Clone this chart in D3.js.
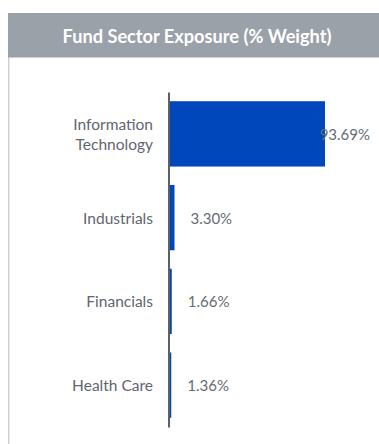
<!DOCTYPE html>
<html>
<head>
<meta charset="utf-8">
<script src="https://cdn.jsdelivr.net/npm/d3@7"></script>
<style>
  html, body { margin: 0; padding: 0; background: #fff; }
  svg { display: block; }
</style>
</head>
<body>
<svg id="chart" width="379" height="444"></svg>
<script>
// Sector weights of the fund, in percent
const sectors = ["Information Technology", "Industrials", "Financials", "Health Care"];
const sectorLines = [["Information", "Technology"], ["Industrials"], ["Financials"], ["Health Care"]];
const weights = [93.69, 3.30, 1.66, 1.36];
const valueLabels = ["93.69%", "3.30%", "1.66%", "1.36%"];
const title = "Fund Sector Exposure (% Weight)";

const W = 379, H = 444;
const font = "Lato, 'Open Sans', sans-serif";
const svg = d3.select("#chart");

// Panel frame: left rule and grey header strip
svg.append("line")
  .attr("x1", 8.75).attr("x2", 8.75)
  .attr("y1", 57).attr("y2", H)
  .attr("stroke", "#ced2d6").attr("stroke-width", 1.5);

svg.append("rect")
  .attr("x", 8).attr("y", 13)
  .attr("width", W - 8 + 10).attr("height", 44.5)
  .attr("fill", "#9ba1a8");

svg.append("text")
  .attr("x", 197).attr("y", 36)
  .attr("text-anchor", "middle")
  .attr("dominant-baseline", "central")
  .attr("font-family", font)
  .attr("font-weight", 700)
  .attr("font-size", 18.2)
  .attr("fill", "#ffffff")
  .text(title);

// Scales
const axisX = 168.5;
const y = d3.scaleBand()
  .domain(sectors)
  .range([92, 427])
  .paddingInner(0.22)
  .paddingOuter(0.11);

const x = d3.scaleLinear()
  .domain([0, d3.max(weights)])
  .range([axisX + 0.5, 325]);

// Bars
svg.append("g").selectAll("rect")
  .data(sectors)
  .join("rect")
  .attr("x", x(0))
  .attr("y", d => y(d))
  .attr("width", (d, i) => x(weights[i]) - x(0))
  .attr("height", y.bandwidth())
  .attr("fill", "#0047bb");

// Category axis: vertical line without ticks
const yAxis = d3.axisLeft(y).tickSize(0).tickFormat("");
const gAxis = svg.append("g")
  .attr("transform", `translate(${axisX},0)`)
  .call(yAxis);
gAxis.select(".domain").attr("stroke", "#5b6168").attr("stroke-width", 2);

// Category labels
const catG = svg.append("g");
sectors.forEach((s, i) => {
  const lines = sectorLines[i];
  const cy = y(s) + y.bandwidth() / 2;
  const lh = 20;
  const t = catG.append("text")
    .attr("text-anchor", "end")
    .attr("font-family", font)
    .attr("font-size", 15.5)
    .attr("fill", "#5f666e");
  lines.forEach((ln, j) => {
    t.append("tspan")
      .attr("x", 153)
      .attr("y", cy + (j - (lines.length - 1) / 2) * lh)
      .attr("dominant-baseline", "central")
      .text(ln);
  });
});

// Value labels, kept inside the panel on the right
const valG = svg.append("g");
sectors.forEach((s, i) => {
  const t = valG.append("text")
    .attr("y", y(s) + y.bandwidth() / 2)
    .attr("dominant-baseline", "central")
    .attr("font-family", font)
    .attr("font-size", 15)
    .attr("fill", "#666c74")
    .text(valueLabels[i]);
  const w = t.node().getComputedTextLength();
  const px = Math.min(x(weights[i]) + 16, 370 - w);
  t.attr("x", px);
});
</script>
</body>
</html>
